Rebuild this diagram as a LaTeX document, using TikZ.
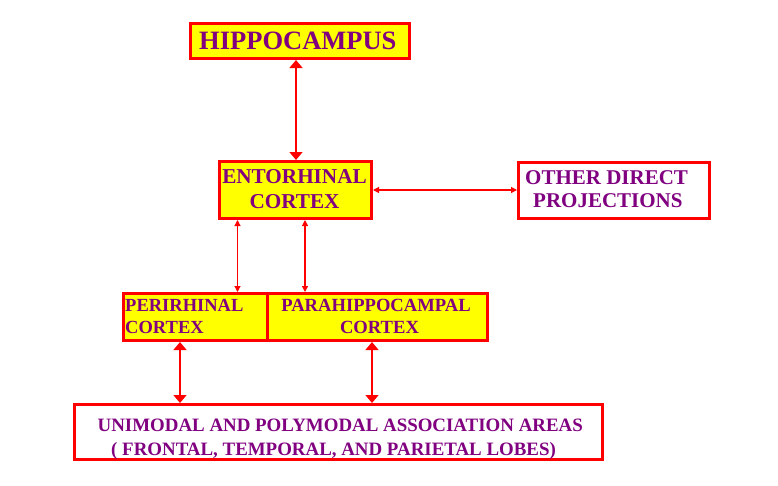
\documentclass[tikz,border=0pt]{standalone}
\usepackage{fontspec}
\setmainfont{Liberation Serif}
\usetikzlibrary{arrows.meta}
\definecolor{boxred}{RGB}{255,0,0}
\definecolor{boxyellow}{RGB}{255,255,0}
\definecolor{txtpurple}{RGB}{128,0,128}
\tikzset{
  ybox/.style={draw=boxred, line width=3pt, fill=boxyellow, rectangle, inner sep=0pt},
  wbox/.style={draw=boxred, line width=3pt, fill=white, rectangle, inner sep=0pt},
  lbl/.style={text=txtpurple, inner sep=0pt, font=\bfseries},
  bigarr/.style={draw=boxred, line width=1.5pt, {Triangle[width=13pt,length=8pt]}-{Triangle[width=13pt,length=8pt]}},
  smallarr/.style={draw=boxred, line width=1.2pt, {Triangle[width=6pt,length=6pt]}-{Triangle[width=6pt,length=6pt]}}
}
\begin{document}
\begin{tikzpicture}[x=1pt,y=-1pt]
\useasboundingbox (0,0) rectangle (778,485);
% boxes
\node[ybox, minimum width=219, minimum height=35] (hip) at (300,41) {};
\node[ybox, minimum width=152, minimum height=57] (ent) at (295.5,190) {};
\node[wbox, minimum width=191, minimum height=56] (oth) at (614,190.5) {};
\node[ybox, minimum width=143.5, minimum height=47] (per) at (195.25,317) {};
\node[ybox, minimum width=220.5, minimum height=47] (par) at (377.25,317) {};
\node[wbox, minimum width=528, minimum height=55] (uni) at (338.5,432) {};
% texts
\node[lbl, anchor=base west, font=\bfseries\fontsize{26.5}{30}\selectfont] (hipT) at (199,49) {HIPPOCAMPUS};
\node[lbl, anchor=base, font=\bfseries\fontsize{21.2}{24}\selectfont] (entT1) at (294.5,183) {ENTORHINAL};
\node[lbl, anchor=base, font=\bfseries\fontsize{21.2}{24}\selectfont] (entT2) at (294.5,208) {CORTEX};
\node[lbl, anchor=base west, font=\bfseries\fontsize{21}{24}\selectfont] (othT1) at (525,184) {OTHER DIRECT};
\node[lbl, anchor=base west, font=\bfseries\fontsize{21}{24}\selectfont] (othT2) at (533,207) {PROJECTIONS};
\node[lbl, anchor=base west, font=\bfseries\fontsize{18.5}{21}\selectfont] (perT1) at (125,311) {PERIRHINAL};
\node[lbl, anchor=base west, font=\bfseries\fontsize{18.5}{21}\selectfont] (perT2) at (125,333) {CORTEX};
\node[lbl, anchor=base, font=\bfseries\fontsize{18.6}{21}\selectfont] (parT1) at (376,311) {PARAHIPPOCAMPAL};
\node[lbl, anchor=base, font=\bfseries\fontsize{18.6}{21}\selectfont] (parT2) at (379.5,333) {CORTEX};
\node[lbl, anchor=base west, font=\bfseries\fontsize{18.9}{21}\selectfont] (uniT1) at (97.5,431) {UNIMODAL AND POLYMODAL ASSOCIATION AREAS};
\node[lbl, anchor=base west, font=\bfseries\fontsize{18.9}{21}\selectfont] (uniT2) at (111,455) {( FRONTAL, TEMPORAL, AND PARIETAL LOBES)};
% connector x/y positions
\coordinate (xa) at (296,0);
\coordinate (xb) at (237.5,0);
\coordinate (xc) at (305,0);
\coordinate (xd) at (180,0);
\coordinate (xe) at (372,0);
\coordinate (ya) at (0,190);
% connectors
\draw[bigarr] (hip.south -| xa) -- (ent.north -| xa);
\draw[smallarr] (ent.east |- ya) -- (oth.west |- ya);
\draw[smallarr] (ent.south -| xb) -- (per.north -| xb);
\draw[smallarr] (ent.south -| xc) -- (par.north -| xc);
\draw[bigarr] (per.south -| xd) -- (uni.north -| xd);
\draw[bigarr] (par.south -| xe) -- (uni.north -| xe);
\end{tikzpicture}
\end{document}
